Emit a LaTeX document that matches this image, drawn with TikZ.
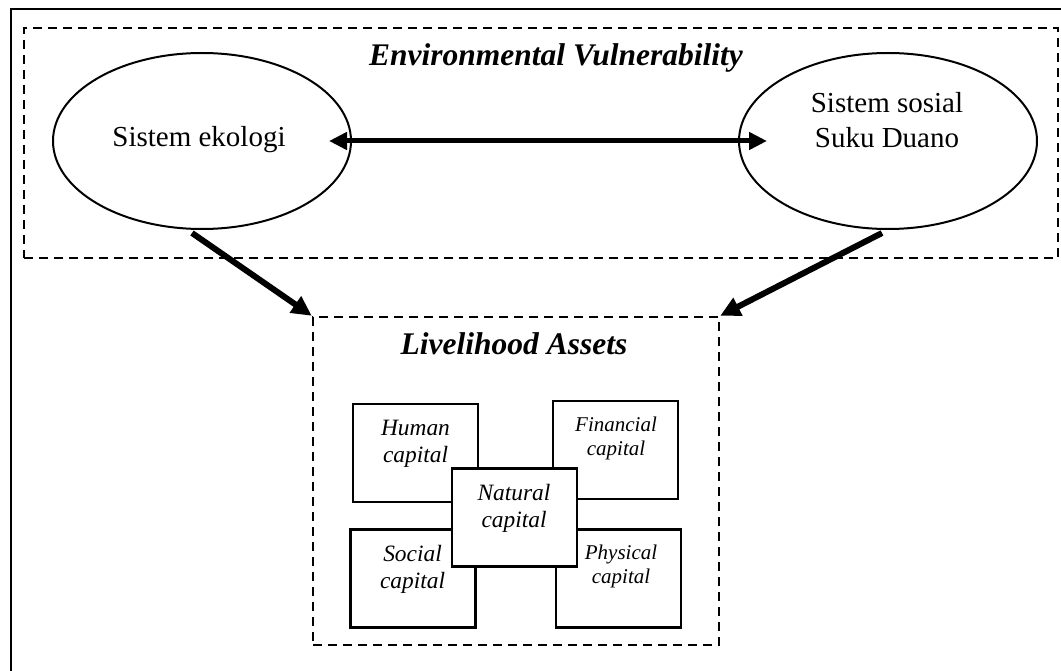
\documentclass[tikz,border=0pt]{standalone}
\usepackage{fontspec}
\setmainfont{Liberation Serif}
\usetikzlibrary{arrows.meta,shapes.geometric,calc}
\begin{document}
\begin{tikzpicture}[x=1pt,y=-1pt,
  frame/.style={line width=2.6pt},
  dashbox/.style={draw, line width=2.4pt, dash pattern=on 9pt off 6pt, inner sep=0pt},
  sysell/.style={draw, ellipse, line width=2pt, minimum width=298pt, minimum height=176pt, inner sep=0pt},
  systext/.style={font=\fontsize{29}{35}\selectfont, align=center, anchor=base, inner sep=0pt},
  titletext/.style={font=\fontsize{31.5}{36}\selectfont\bfseries\itshape, anchor=base, inner sep=0pt},
  capbox/.style={draw, line width=2.4pt, minimum width=125pt, minimum height=98pt, inner sep=0pt, fill=white},
  captext/.style={font=\fontsize{23.4}{27}\selectfont\itshape, align=center, anchor=base, inner sep=0pt},
  capsmall/.style={font=\fontsize{21}{24}\selectfont\itshape, align=center, anchor=base, inner sep=0pt},
  dblarrow/.style={line width=5pt, {Triangle[length=18pt,width=17pt]}-{Triangle[length=18pt,width=17pt]}},
  diagarrow/.style={line width=6pt, -{Triangle[length=20pt,width=19pt]}}
]
\useasboundingbox (0,0) rectangle (1061,671);
% outer frame (only left and top edges visible)
\coordinate (fbl) at (11,690);
\coordinate (ftl) at (11,9);
\coordinate (ftr) at (1080,9);
\draw[frame] (fbl) -- (ftl) -- (ftr);

% environmental vulnerability box
\node[dashbox, minimum width=1034pt, minimum height=230pt] (env) at (541,143) {};
\node[titletext] (envtitle) at (556,66) {Environmental Vulnerability};

% ellipses
\node[sysell] (eko) at (202,141) {};
\node[sysell] (sos) at (888,141) {};
\node[systext] (ekotext) at (199,147) {Sistem ekologi};
\node[systext] (sostext) at (887,148) {Sistem sosial\\Suku Duano};

% livelihood box
\node[dashbox, minimum width=406pt, minimum height=328pt] (liv) at (516,481) {};
\node[titletext] (livtitle) at (514,355) {Livelihood Assets};

% capitals
\node[capbox] (human) at (415.5,453) {};
\node[capbox] (fin) at (615.5,450) {};
\node[capbox] (social) at (413,578.5) {};
\node[capbox] (phys) at (618.5,578.5) {};
\node[capbox] (natural) at (514.5,517.5) {};

\node[captext] (humant) at (415.5,462) {Human\\capital};
\node[capsmall] (fint) at (616,455) {Financial\\capital};
\node[captext] (naturalt) at (514,527) {Natural\\capital};
\node[captext] (socialt) at (412.5,588) {Social\\capital};
\node[capsmall] (physt) at (621,583) {Physical\\capital};

% arrows
\draw[dblarrow] ([xshift=-23pt]eko.east) -- ([xshift=29pt]sos.west);
\draw[diagarrow] ([xshift=-10pt,yshift=-3pt]eko.south) -- (liv.north west);
\draw[diagarrow] ([xshift=-6pt,yshift=-3pt]sos.south) -- (liv.north east);
\end{tikzpicture}
\end{document}
